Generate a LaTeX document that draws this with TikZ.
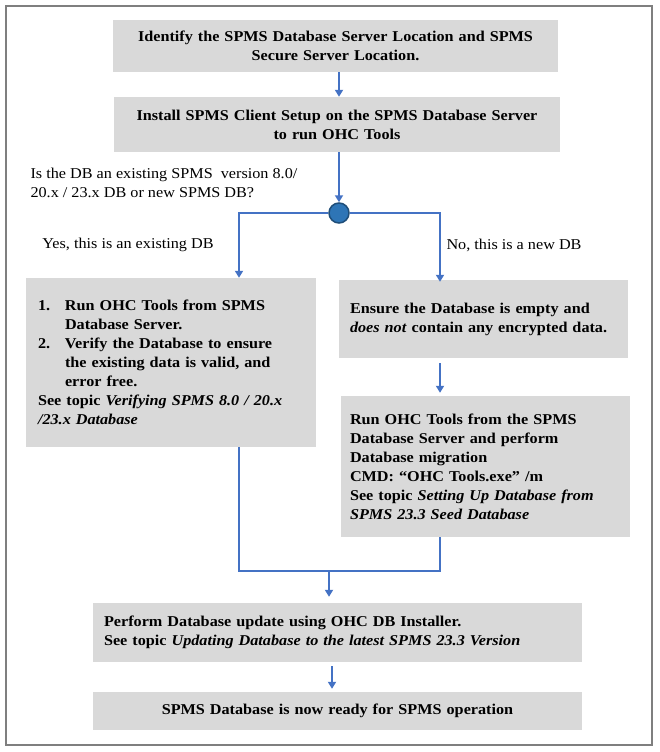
\documentclass[tikz,border=0pt]{standalone}
\usepackage{fontspec}
\setmainfont{Liberation Serif}[FakeStretch=1.08]
\usepackage{xcolor}
\usetikzlibrary{arrows.meta}

\definecolor{boxgray}{HTML}{D9D9D9}
\definecolor{flowblue}{HTML}{4472C4}
\definecolor{framegray}{HTML}{7F7F7F}
\definecolor{splitfill}{HTML}{2E75B6}
\definecolor{splitline}{HTML}{1F4E79}

\newcommand{\numstep}[1]{\makebox[27pt][l]{#1}}
\newcommand{\hang}{\hspace*{27pt}}

\begin{document}
\begin{tikzpicture}[x=1pt, y=-1pt,
    font=\fontsize{15}{19}\selectfont,
    stepbox/.style={fill=boxgray, inner sep=0pt, font=\fontsize{15}{19}\selectfont\bfseries},
    flow/.style={flowblue, line width=2pt},
    flowarrow/.style={flow, -{Triangle[length=7pt, width=8pt]}}]
    \useasboundingbox (0,0) rectangle (660,752);

    % Frame
    \draw[framegray, line width=2pt] (6,6) rectangle (652,745);

    % Top boxes
    \node[stepbox, minimum width=445, minimum height=52, text width=430, align=center] (locate) at (335.5,46)
        {Identify the SPMS Database Server Location and SPMS\\ Secure Server Location.};
    \node[stepbox, minimum width=446, minimum height=55, text width=430, align=center] (install) at (337,124.5)
        {Install SPMS Client Setup on the SPMS Database Server\\ to run OHC Tools};

    % Decision
    \node[anchor=west, align=left] (question) at (27,183)
        {Is the DB an existing SPMS\ \ version 8.0/\\ 20.x / 23.x DB or new SPMS DB?};
    \node[circle, fill=splitfill, draw=splitline, line width=1.5pt, minimum size=20pt, inner sep=0pt] (split) at (339,213) {};
    \node (yes) at (128,245) {Yes, this is an existing DB};
    \node[anchor=west] (no) at (443,245) {No, this is a new DB};

    % Existing DB branch
    \node[stepbox, minimum width=290, minimum height=169, text width=266, align=left] (verify) at (171,362.5)
        {\numstep{1.}Run OHC Tools from SPMS\\ \hang Database Server.\\
         \numstep{2.}Verify the Database to ensure\\ \hang the existing data is valid, and\\ \hang error free.\\
         See topic \textit{Verifying SPMS 8.0 / 20.x}\\ \textit{/23.x Database}};

    % New DB branch
    \node[stepbox, minimum width=289, minimum height=78, text width=267, align=left] (empty) at (483.5,319)
        {Ensure the Database is empty and\\ \textit{does not} contain any encrypted data.};
    \node[stepbox, minimum width=289, minimum height=141, text width=271, align=left] (migrate) at (485.5,466.5)
        {Run OHC Tools from the SPMS\\ Database Server and perform\\ Database migration\\
         CMD: “OHC Tools.exe” /m\\ See topic \textit{Setting Up Database from}\\ \textit{SPMS 23.3 Seed Database}};

    % Bottom boxes
    \node[stepbox, minimum width=489, minimum height=59, text width=467, align=left] (update) at (337.5,632.5)
        {Perform Database update using OHC DB Installer.\\
         See topic \textit{Updating Database to the latest SPMS 23.3 Version}};
    \node[stepbox, minimum width=489, minimum height=38, text width=467, align=center] (ready) at (337.5,711)
        {SPMS Database is now ready for SPMS operation};

    % Connectors
    \coordinate (yesx) at (239,0);
    \coordinate (nox) at (440,0);
    \coordinate (joinl) at (239,571);
    \coordinate (joinr) at (440,571);
    \coordinate (merge) at (329,571);
    \coordinate (lastx) at (332,0);

    \draw[flowarrow] (locate.south -| split) -- (install.north -| split);
    \draw[flowarrow] (install.south -| split) -- (split.north);
    \draw[flowarrow] (split.west) -| (verify.north -| yesx);
    \draw[flowarrow] (split.east) -| ([yshift=-2pt]empty.north -| nox);
    \draw[flowarrow, shorten <=5pt, shorten >=3pt] (empty.south -| nox) -- (migrate.north -| nox);
    \draw[flow] (verify.south -| joinl) -- (joinl) -- (joinr) -- (migrate.south -| joinr);
    \draw[flowarrow, shorten >=6pt] (merge) -- (update.north -| merge);
    \draw[flowarrow, shorten <=4pt, shorten >=3pt] (update.south -| lastx) -- (ready.north -| lastx);

\end{tikzpicture}
\end{document}
